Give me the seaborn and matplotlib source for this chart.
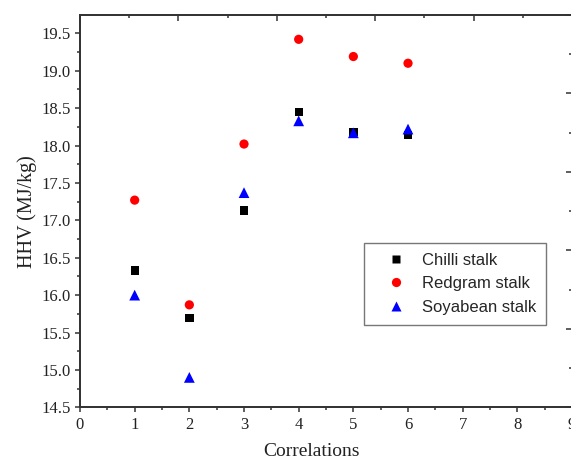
import numpy as np
import pandas as pd
import seaborn as sns
import matplotlib.pyplot as plt
from matplotlib.ticker import MultipleLocator

# HHV values, one per correlation
correlations = [1, 2, 3, 4, 5, 6]
chilli = [16.33, 15.69, 17.13, 18.45, 18.18, 18.14]
redgram = [17.27, 15.87, 18.02, 19.42, 19.19, 19.10]
soyabean = [16.00, 14.90, 17.37, 18.33, 18.17, 18.22]

names = ["Chilli stalk", "Redgram stalk", "Soyabean stalk"]

df = pd.DataFrame({
    "Correlations": correlations * 3,
    "HHV": chilli + redgram + soyabean,
    "Sample": [n for n in names for _ in correlations],
})

sns.set_style("ticks")
plt.rcParams['font.family'] = ['Liberation Serif', 'DejaVu Serif']
plt.rcParams['axes.edgecolor'] = '#333333'
plt.rcParams['axes.linewidth'] = 1.1

fig = plt.figure(figsize=(5.71, 4.59), dpi=100)
ax = fig.add_axes([0.1401, 0.1126, 0.8617, 0.8547])

sns.scatterplot(
    data=df, x="Correlations", y="HHV", hue="Sample", style="Sample",
    palette={"Chilli stalk": "black", "Redgram stalk": "red", "Soyabean stalk": "blue"},
    markers={"Chilli stalk": "s", "Redgram stalk": "o", "Soyabean stalk": "^"},
    s=40, edgecolor="none", ax=ax, zorder=3,
)
# squares a bit smaller, triangles a bit larger, as in the original
msize = {"Chilli stalk": 36, "Redgram stalk": 44, "Soyabean stalk": 60}
ax.collections[0].set_sizes(df["Sample"].map(msize).to_numpy())

ax.set_xlim(0, 9)
ax.set_ylim(14.5, 19.745)
ax.xaxis.set_major_locator(MultipleLocator(1))
ax.xaxis.set_minor_locator(MultipleLocator(0.5))
ax.yaxis.set_major_locator(MultipleLocator(0.5))
ax.yaxis.set_minor_locator(MultipleLocator(0.25))
ax.tick_params(which="major", direction="out", length=3.8, width=1.1, labelsize=12,
               colors="#333333", labelcolor="#222222", pad=3)
ax.tick_params(which="minor", direction="out", length=2.3, width=1.1, colors="#333333")
ax.yaxis.set_major_formatter(plt.FormatStrFormatter("%.1f"))
ax.set_xlabel("Correlations", fontsize=14, color="#222222")
ax.set_ylabel("HHV (MJ/kg)", fontsize=14.5, color="#222222")
ax.xaxis.set_label_coords(0.4705, -0.09)
ax.yaxis.set_label_coords(-0.088, 0.5)

# top and right axes carry their own tick scale, no labels
axt = ax.twiny()
axt.set_xlim(0, 5)
axt.xaxis.set_major_locator(MultipleLocator(1))
axt.xaxis.set_minor_locator(MultipleLocator(0.5))
axt.tick_params(which="major", direction="in", length=4, width=1.1, labeltop=False, colors="#333333")
axt.tick_params(which="minor", direction="in", length=2.5, width=1.1, colors="#333333")
axr = ax.twinx()
axr.set_ylim(0, 5)
axr.yaxis.set_major_locator(MultipleLocator(1))
axr.yaxis.set_minor_locator(MultipleLocator(0.5))
axr.tick_params(which="major", direction="in", length=4, width=1.1, labelright=False, colors="#333333")
axr.tick_params(which="minor", direction="in", length=2, width=1.1, colors="#333333")

leg = ax.legend(
    loc="upper left", bbox_to_anchor=(0.577, 0.419), borderaxespad=0,
    frameon=True, fancybox=False,
    prop={"family": "Liberation Sans", "size": 12},
    handlelength=2.6, handletextpad=0.3, borderpad=0.6, labelspacing=0.5,
)
leg.get_frame().set_edgecolor("#555555")
leg.get_frame().set_linewidth(1.0)
for h, n in zip(leg.legend_handles, names):
    h.set_markeredgecolor("none")
    h.set_markersize(msize[n] ** 0.5)

fig.savefig("out.png", dpi=100)
